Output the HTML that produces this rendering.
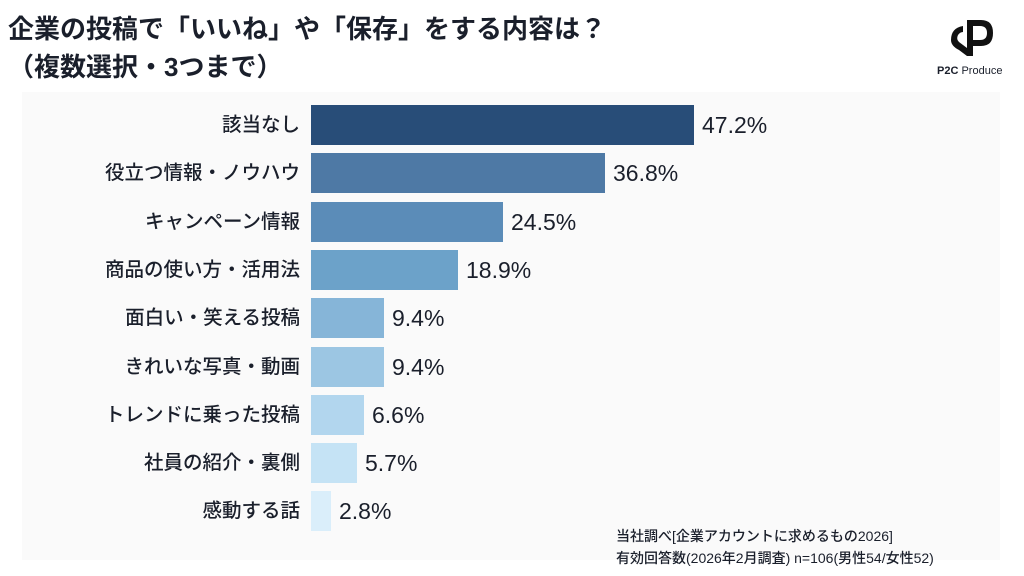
<!DOCTYPE html>
<html><head><meta charset="utf-8"><style>
body{margin:0;width:1024px;height:576px;background:#fff;position:relative;overflow:hidden;font-family:"Liberation Sans","Noto Sans CJK JP",sans-serif;color:#1a1f2b}
.t{position:absolute;left:8px;font-weight:bold;font-size:26px;white-space:nowrap;line-height:1}
.bg{position:absolute;left:22px;top:92px;width:978px;height:468px;background:#fafafa}
.lab{position:absolute;right:724px;font-size:19.5px;line-height:40px;white-space:nowrap;font-weight:500}
.bar{position:absolute;left:311px;height:40px}
.v{position:absolute;font-size:23px;line-height:40px}
.foot{position:absolute;left:616px;font-size:14px;line-height:1;white-space:nowrap;font-weight:500}
</style></head><body>
<div class="bg"></div>
<div class="t" style="top:16px">企業の投稿で「いいね」や「保存」をする内容は？</div>
<div class="t" style="top:54px">（複数選択・3つまで）</div>
<svg style="position:absolute;left:945px;top:12px" width="60" height="50" viewBox="0 0 60 50">
<path d="M22 8 L22 44 L28 44 L28 34 L36 34 Q48 34 48 21 Q48 8 36 8 Z M28 14 L35 14 Q42 14 42 21 Q42 28 35 28 L28 28 Z" fill="#111"/>
<path d="M18 14 Q6 16 6 28 Q6 34 14 38 L22 44 L22 36 L14 30 Q11 27 13 23 Q15 20 18 20 Z" fill="#111"/>
</svg>
<div style="position:absolute;left:937px;top:65px;font-size:11px;white-space:nowrap"><b>P2C</b> Produce</div>
<div id="c"></div>
<div class="foot" style="top:529px">当社調べ[企業アカウントに求めるもの2026]</div>
<div class="foot" style="top:551px">有効回答数(2026年2月調査) n=106(男性54/女性52)</div>
<script>
var d=[["該当なし","47.2%",694,"#284d78"],["役立つ情報・ノウハウ","36.8%",605,"#4e79a5"],["キャンペーン情報","24.5%",503,"#5b8cb8"],["商品の使い方・活用法","18.9%",458,"#6ca2c9"],["面白い・笑える投稿","9.4%",384,"#86b5d8"],["きれいな写真・動画","9.4%",384,"#9cc6e3"],["トレンドに乗った投稿","6.6%",364,"#b2d6ee"],["社員の紹介・裏側","5.7%",357,"#c5e3f5"],["感動する話","2.8%",331,"#daeefa"]];
var h="";d.forEach(function(r,i){var y=Math.round(105+48.3*i);
h+='<div class="lab" style="top:'+y+'px">'+r[0]+'</div><div class="bar" style="top:'+y+'px;width:'+(r[2]-311)+'px;background:'+r[3]+'"></div><div class="v" style="top:'+y+'px;left:'+(r[2]+8)+'px">'+r[1]+'</div>';});
document.getElementById("c").innerHTML=h;
</script>
</body></html>
